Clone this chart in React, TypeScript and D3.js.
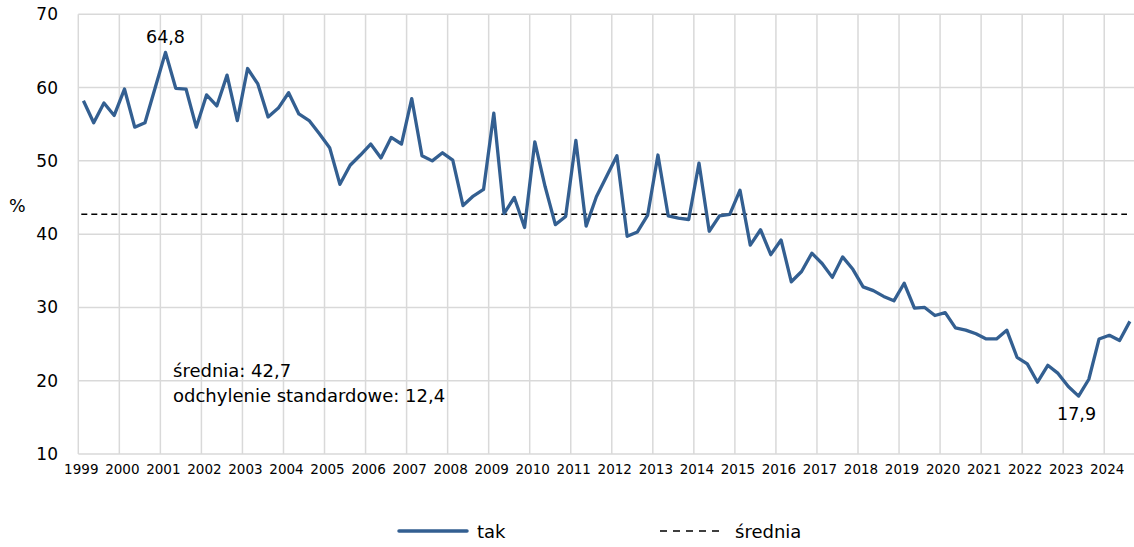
import {default as React, useEffect, useRef} from "react";
import * as d3 from "d3";

// quarterly share of "tak" answers, 1999 Q1 .. 2024 Q3
const values: number[] = [
    58.2, 55.2, 57.9, 56.2,
    59.8, 54.6, 55.2, 60.0,
    64.8, 59.9, 59.8, 54.6,
    59.0, 57.5, 61.7, 55.5,
    62.6, 60.5, 56.0, 57.2,
    59.3, 56.4, 55.5, 53.7,
    51.8, 46.8, 49.4, 50.8,
    52.3, 50.4, 53.2, 52.3,
    58.5, 50.7, 50.0, 51.1,
    50.1, 43.9, 45.2, 46.1,
    56.5, 42.8, 45.0, 40.9,
    52.6, 46.5, 41.3, 42.4,
    52.8, 41.1, 45.1, 47.9,
    50.7, 39.7, 40.3, 42.6,
    50.8, 42.5, 42.2, 42.0,
    49.7, 40.4, 42.5, 42.7,
    46.0, 38.5, 40.6, 37.2,
    39.2, 33.5, 34.9, 37.4,
    36.0, 34.1, 36.9, 35.2,
    32.8, 32.3, 31.5, 30.9,
    33.3, 29.9, 30.0, 28.9,
    29.3, 27.2, 26.9, 26.4,
    25.7, 25.7, 26.9, 23.2,
    22.3, 19.8, 22.1, 21.0,
    19.2, 17.9, 20.2, 25.7,
    26.2, 25.5, 28.1
];

const years: number[] = d3.range(1999, 2025);
const quarters: string[] = values.map((_, i) => `${1999 + Math.floor(i / 4)}Q${(i % 4) + 1}`);
const yTicks: number[] = [10, 20, 30, 40, 50, 60, 70];

const mean = 42.7;
const stdDev = 12.4;

const fmt = (v: number) => v.toFixed(1).replace(".", ",");

const width = 1134;
const height = 547;
const plot = {left: 78.3, right: 1135, top: 14.3, bottom: 454};

const blue = "#335f91";
const grid = "#d9d9d9";
const font = "'DejaVu Sans', Verdana, sans-serif";

export default function App() {
    const ref = useRef<SVGSVGElement>(null);

    useEffect(() => {
        draw();
    }, []);

    function draw() {
        const svg = d3.select(ref.current);
        svg.selectAll("*").remove();

        const x = d3.scaleBand<string>()
            .domain(quarters)
            .range([plot.left, plot.right]);
        const y = d3.scaleLinear()
            .domain([10, 70])
            .range([plot.bottom, plot.top]);
        const cx = (q: string) => (x(q) as number) + x.bandwidth() / 2;
        const yearStart = (yr: number) => plot.left + x.step() * 4 * (yr - 1999);

        // horizontal gridlines
        svg.append("g")
            .selectAll("line")
            .data(yTicks)
            .join("line")
            .attr("x1", plot.left)
            .attr("x2", plot.right)
            .attr("y1", d => y(d))
            .attr("y2", d => y(d))
            .attr("stroke", grid)
            .attr("stroke-width", 1.5);

        // vertical gridlines at year boundaries
        svg.append("g")
            .selectAll("line")
            .data(years)
            .join("line")
            .attr("x1", d => yearStart(d))
            .attr("x2", d => yearStart(d))
            .attr("y1", plot.top)
            .attr("y2", plot.bottom)
            .attr("stroke", grid)
            .attr("stroke-width", 1.5);

        // y tick labels
        svg.append("g")
            .selectAll("text")
            .data(yTicks)
            .join("text")
            .attr("x", 58)
            .attr("y", d => y(d) + 6)
            .attr("text-anchor", "end")
            .attr("font-size", 17)
            .text(d => d);

        svg.append("text")
            .attr("x", 9)
            .attr("y", 212)
            .attr("font-size", 17.5)
            .text("%");

        // year labels
        svg.append("g")
            .selectAll("text")
            .data(years)
            .join("text")
            .attr("x", d => yearStart(d) + 3)
            .attr("y", 474)
            .attr("text-anchor", "middle")
            .attr("font-size", 13.5)
            .text(d => d);

        // mean line
        svg.append("line")
            .attr("x1", plot.left + 3)
            .attr("x2", plot.right - 8)
            .attr("y1", y(mean))
            .attr("y2", y(mean))
            .attr("stroke", "#000")
            .attr("stroke-width", 1.5)
            .attr("stroke-dasharray", "6,4");

        // series
        svg.append("path")
            .datum(values)
            .attr("fill", "none")
            .attr("stroke", blue)
            .attr("stroke-width", 3.3)
            .attr("stroke-linejoin", "round")
            .attr("d", d3.line<number>()
                .x((d, i) => cx(quarters[i]))
                .y(d => y(d))
            );

        // max / min annotations
        const iMax = d3.maxIndex(values);
        const iMin = d3.minIndex(values);
        svg.append("text")
            .attr("x", cx(quarters[iMax]))
            .attr("y", y(values[iMax]) - 9)
            .attr("text-anchor", "middle")
            .attr("font-size", 17.5)
            .text(fmt(values[iMax]));
        svg.append("text")
            .attr("x", cx(quarters[iMin]) - 2)
            .attr("y", y(values[iMin]) + 24)
            .attr("text-anchor", "middle")
            .attr("font-size", 17.5)
            .text(fmt(values[iMin]));

        // stats
        svg.append("text")
            .attr("x", 173)
            .attr("y", 377)
            .attr("font-size", 18)
            .text(`średnia: ${fmt(mean)}`);
        svg.append("text")
            .attr("x", 173)
            .attr("y", 402)
            .attr("font-size", 18)
            .text(`odchylenie standardowe: ${fmt(stdDev)}`);

        // legend
        const legend = svg.append("g");
        legend.append("line")
            .attr("x1", 399).attr("x2", 467)
            .attr("y1", 531).attr("y2", 531)
            .attr("stroke", blue)
            .attr("stroke-width", 3.5)
            .attr("stroke-linecap", "round");
        legend.append("text")
            .attr("x", 477).attr("y", 538)
            .attr("font-size", 18)
            .text("tak");
        legend.append("line")
            .attr("x1", 660).attr("x2", 724)
            .attr("y1", 531).attr("y2", 531)
            .attr("stroke", "#000")
            .attr("stroke-width", 1.5)
            .attr("stroke-dasharray", "7,6");
        legend.append("text")
            .attr("x", 735).attr("y", 538)
            .attr("font-size", 18)
            .text("średnia");
    }

    return (
        <svg
            width={width}
            height={height}
            ref={ref}
            fontFamily={font}
            style={{position: "absolute", left: 0, top: 0, backgroundColor: "white"}}
        />
    );
}
